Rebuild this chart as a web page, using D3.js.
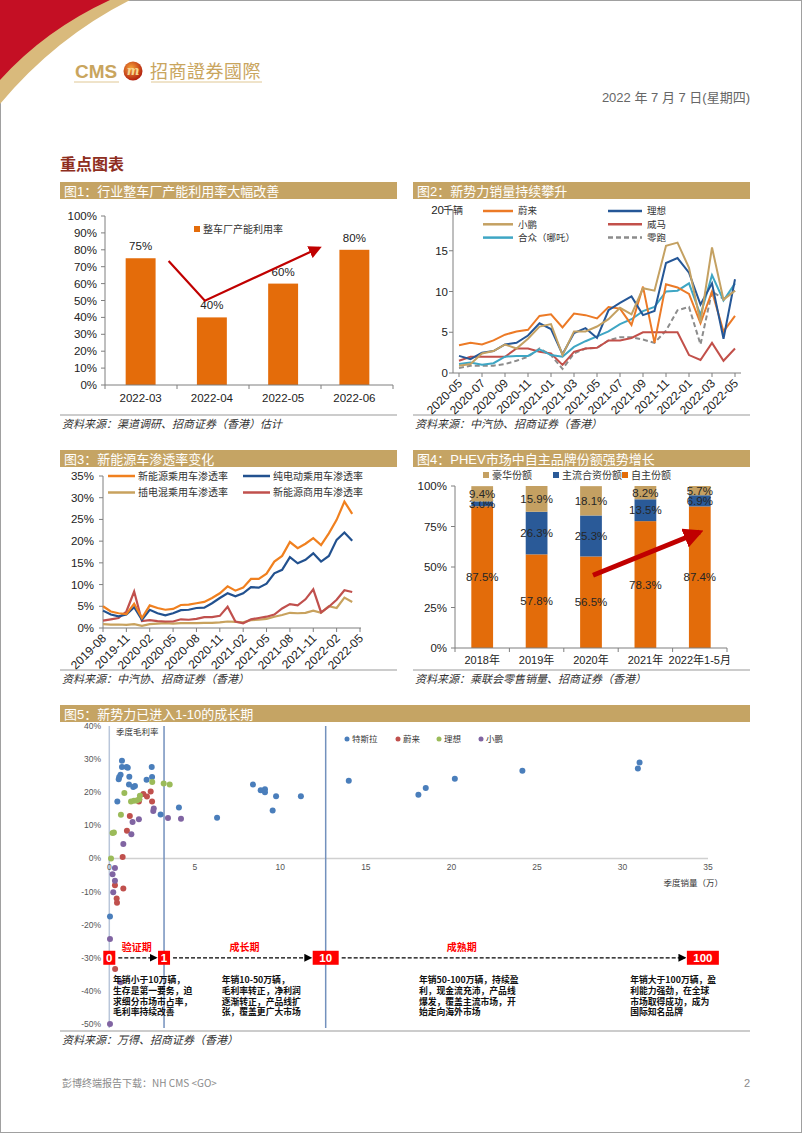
<!DOCTYPE html>
<html><head><meta charset="utf-8">
<script src="https://cdn.jsdelivr.net/npm/d3@7"></script>
<style>body{margin:0;background:#fff}svg{display:block}</style>
</head><body><svg id="c" width="802" height="1133"></svg>
<script>
// ---------------- DATA ----------------
const c1Cats = ["2022-03","2022-04","2022-05","2022-06"];
const c1Vals = [75,40,60,80];
const c1Ticks = [0,10,20,30,40,50,60,70,80,90,100];

const c2Months = ["2020-05","2020-06","2020-07","2020-08","2020-09","2020-10","2020-11","2020-12",
  "2021-01","2021-02","2021-03","2021-04","2021-05","2021-06","2021-07","2021-08","2021-09","2021-10","2021-11","2021-12",
  "2022-01","2022-02","2022-03","2022-04","2022-05"];
const c2Nio  = [3.4,3.7,3.5,4.0,4.7,5.1,5.3,7.0,7.2,5.6,7.3,7.1,6.7,8.1,7.9,5.9,10.6,3.7,10.9,10.5,9.7,6.1,10.0,5.1,7.0];
const c2Li   = [2.1,1.7,2.5,2.7,3.5,3.7,4.6,6.1,5.4,2.3,4.9,5.5,4.3,7.7,8.6,9.4,7.1,7.6,13.5,14.1,12.3,8.4,11.0,4.2,11.5];
const c2Xp   = [0.9,1.1,2.4,2.7,3.5,3.0,4.2,5.7,6.0,2.2,5.1,5.1,5.7,6.6,8.0,7.2,10.4,10.1,15.6,16.0,12.9,6.2,15.4,9.0,10.1];
const c2Wm   = [1.5,2.0,2.0,2.0,2.0,3.0,3.0,2.6,2.4,1.0,2.6,3.0,3.1,4.0,4.0,4.3,5.0,5.0,5.0,5.0,2.2,1.6,3.7,1.5,3.0];
const c2Neta = [1.1,1.3,1.0,1.2,2.0,2.1,2.1,2.9,2.2,2.0,3.2,3.9,4.5,5.1,6.0,6.6,7.6,8.1,10.0,10.1,11.0,7.1,12.0,8.9,11.0];
const c2Leap = [0.6,0.9,0.9,0.9,1.1,1.5,2.0,3.0,2.2,0.5,2.4,3.0,3.1,4.0,4.4,4.4,4.1,3.7,5.2,7.7,8.1,3.5,10.0,9.1,10.1];
const c2Ticks = [0,5,10,15,20];

const c3Labels = ["2019-08","2019-11","2020-02","2020-05","2020-08","2020-11","2021-02","2021-05","2021-08","2021-11","2022-02","2022-05"];
const c3NEV  = [5.0,3.8,3.4,3.2,5.6,2.3,5.2,4.6,4.2,4.4,5.3,5.4,5.7,6.0,6.9,8.0,9.6,8.6,9.3,11.3,11.3,12.5,15.3,16.6,19.8,18.4,19.4,20.7,19.1,21.8,24.9,29.1,26.3];
const c3BEV  = [4.0,3.1,2.7,3.1,4.8,1.9,4.2,3.4,2.9,3.4,4.1,4.2,4.6,4.7,5.7,6.9,8.0,7.3,8.0,9.4,9.3,10.2,12.6,13.4,16.3,14.9,15.7,17.2,15.3,16.6,20.3,22.0,20.1];
const c3PHEV = [0.9,0.8,0.8,0.7,0.9,0.5,0.9,1.0,1.1,1.0,1.1,1.1,1.1,1.2,1.2,1.3,1.5,1.4,1.3,1.8,1.9,2.1,2.6,3.0,3.5,3.4,3.5,4.0,3.5,5.0,4.6,7.0,6.0];
const c3Comm = [1.7,2.0,2.3,3.8,8.4,1.6,1.8,1.6,1.5,1.5,2.0,1.9,2.1,2.5,2.5,2.8,4.9,1.5,1.1,2.0,2.3,2.6,3.1,4.5,5.5,5.2,6.6,8.9,3.6,4.9,6.5,8.7,8.3];
const c3Ticks = [0,5,10,15,20,25,30,35];

const c4Cats = ["2018年","2019年","2020年","2021年","2022年1-5月"];
const c4Own  = [87.5,57.8,56.5,78.3,87.4];
const c4JV   = [3.0,26.3,25.3,13.5,6.9];
const c4Lux  = [9.4,15.9,18.1,8.2,5.7];
const c4Ticks = [0,25,50,75,100];

const teslaX = [0.74,0.74,1.01,1.08,0.66,0.58,0.55,1.17,2.48,2.5,2.18,1.15,1.4,1.5,0.47,3.0,4.07,6.3,8.4,8.85,9.1,9.1,9.75,9.55,11.2,14.0,18.07,18.5,20.2,24.15,30.9,31.0,0.04];
const teslaY = [29.5,27.6,27.6,27.4,25.3,24.6,23.9,24.7,27.6,24.6,23.8,22.3,21.6,21.9,17.2,13.3,15.4,12.3,22.3,20.6,20.9,20.0,18.8,14.5,18.8,23.5,19.2,21.3,24.1,26.5,27.2,29.0,-17.5];
const nioX = [2.42,1.99,2.2,2.5,1.73,1.75,1.2,1.03,0.78,0.82,0.33,0.43,0.45,0.34];
const nioY = [20.2,19.5,18.7,17.2,17.2,17.8,12.8,8.4,0.4,-9.1,-8.1,-12.1,-13.4,-33.4];
const liX = [2.51,3.18,3.53,0.88,1.79,1.75,1.27,1.44,1.6,0.68,0.27,0.19,0.1];
const liY = [23.1,22.6,22.3,19.8,18.9,17.9,17.2,17.4,17.5,13.2,7.8,7.7,0.0];
const xpX = [2.6,2.57,3.43,4.19,1.73,1.36,1.29,0.82,0.33,0.19,0.33,0.23,0.04,0.66,0.04];
const xpY = [15.1,14.3,12.2,12.0,11.8,11.0,7.3,4.4,-2.9,-4.8,-6.7,-10.2,-24.3,-37.4,-50.0];
const c5XTicks = [0,5,10,15,20,25,30,35];
const c5YTicks = [40,30,20,10,0,-10,-20,-30,-40,-50];
const stageVals = [0,3.2,12.65,34.7];
const stageText = ["0","1","10","100"];
const stageNames = ["验证期","成长期","成熟期"];
const stageNameX = [1.6,7.9,20.6];
const stageDescX = [0.22,6.57,18.1,30.45];
const stageDesc = [
  ["年销小于10万辆，","生存是第一要务，迫","求细分市场市占率，","毛利率持续改善"],
  ["年销10-50万辆，","毛利率转正，净利润","逐渐转正，产品线扩","张，覆盖更广大市场"],
  ["年销50-100万辆，持续盈","利，现金流充沛，产品线","爆发，覆盖主流市场，开","始走向海外市场"],
  ["年销大于100万辆，盈","利能力强劲，在全球","市场取得成功，成为","国际知名品牌"]
];

// ---------------- DRAW ----------------
const svg = d3.select("#c");
const SANS = "Arial, 'Liberation Sans', 'Noto Sans CJK SC', sans-serif";
const CJK = "'Noto Sans CJK SC', sans-serif";
const GOLD = "#c5a464";
const AX = "#7f7f7f";

svg.append("rect").attr("x",0.5).attr("y",0.5).attr("width",801).attr("height",1132)
  .attr("fill","#fff").attr("stroke","#a0a0a0");

// header swoosh
svg.append("path").attr("d","M0,0 L130,0 Q55,38 0,104 Z").attr("fill","#d9ba7c");
svg.append("path").attr("d","M0,0 L110,0 Q45,30 0,80 Z").attr("fill","#c40f24");

// logo
svg.append("text").attr("x",75).attr("y",78).attr("font-family",SANS).attr("font-weight","bold")
  .attr("font-size",19).attr("fill","#c9a55e").text("CMS");
const grad = svg.append("defs").append("radialGradient").attr("id","lg").attr("cx","40%").attr("cy","35%").attr("r","65%");
grad.append("stop").attr("offset","0%").attr("stop-color","#f7a43a");
grad.append("stop").attr("offset","100%").attr("stop-color","#b3200e");
svg.append("circle").attr("cx",133).attr("cy",71).attr("r",9.5).attr("fill","url(#lg)");
svg.append("text").attr("x",133).attr("y",75).attr("text-anchor","middle").attr("font-family","'DejaVu Serif', serif")
  .attr("font-style","italic").attr("font-weight","bold").attr("font-size",12).attr("fill","#f6d690").text("m");
svg.append("text").attr("x",150).attr("y",78).attr("font-family","'Noto Sans CJK TC', sans-serif")
  .attr("font-size",18).attr("fill","#c9a55e").attr("letter-spacing","0.5").text("招商證券國際");
svg.append("line").attr("x1",74).attr("x2",119).attr("y1",82).attr("y2",82).attr("stroke","#e0c895").attr("stroke-width",1);
svg.append("line").attr("x1",151).attr("x2",262).attr("y1",82).attr("y2",82).attr("stroke","#e0c895").attr("stroke-width",1);

svg.append("text").attr("x",750).attr("y",102).attr("text-anchor","end").attr("font-family",SANS)
  .attr("font-size",13).attr("fill","#666").text("2022 年 7 月 7 日(星期四)");

svg.append("text").attr("x",60).attr("y",170).attr("font-family",CJK).attr("font-weight","bold")
  .attr("font-size",16).attr("fill","#8e2e1e").text("重点图表");

function titleBar(x,y,w,t){
  svg.append("rect").attr("x",x).attr("y",y).attr("width",w).attr("height",17).attr("fill",GOLD);
  svg.append("text").attr("x",x+4).attr("y",y+13.5).attr("font-family",SANS).attr("font-size",13)
    .attr("fill","#fff").text(t);
}
function source(x,y,w,t){
  svg.append("line").attr("x1",x).attr("x2",x+w).attr("y1",y).attr("y2",y).attr("stroke","#9a9a9a").attr("stroke-width",1.2);
  svg.append("text").attr("x",x+2).attr("y",y+13).attr("font-family",CJK).attr("font-style","italic")
    .attr("font-size",11).attr("fill","#333").text(t);
}
function hline(x1,x2,y,c,w){svg.append("line").attr("x1",x1).attr("x2",x2).attr("y1",y).attr("y2",y).attr("stroke",c||AX).attr("stroke-width",w||1);}
function vline(x,y1,y2,c,w){svg.append("line").attr("x1",x).attr("x2",x).attr("y1",y1).attr("y2",y2).attr("stroke",c||AX).attr("stroke-width",w||1);}
const defs = svg.select("defs");
function marker(id,color,size){
  defs.append("marker").attr("id",id).attr("viewBox","0 0 10 10").attr("refX",8).attr("refY",5)
    .attr("markerWidth",size).attr("markerHeight",size).attr("orient","auto").attr("markerUnits","userSpaceOnUse")
    .append("path").attr("d","M0,0 L10,5 L0,10 Z").attr("fill",color);
}
marker("arR","#c00000",13);
marker("arR2","#c00000",20);
marker("arK","#000",8);

// ====== Chart 1 ======
titleBar(60,182,337,"图1：行业整车厂产能利用率大幅改善");
const x1 = d3.scaleBand().domain(c1Cats).range([105,390]).paddingInner(0.58).paddingOuter(0.29);
const y1 = d3.scaleLinear().domain([0,100]).range([385,216]);
const g1 = svg.append("g");
g1.selectAll("rect.b").data(c1Cats).join("rect").attr("x",d=>x1(d)).attr("width",x1.bandwidth())
  .attr("y",(d,i)=>y1(c1Vals[i])).attr("height",(d,i)=>y1(0)-y1(c1Vals[i])).attr("fill","#e46c0a");
g1.selectAll("text.v").data(c1Cats).join("text").attr("x",d=>x1(d)+x1.bandwidth()/2)
  .attr("y",(d,i)=>y1(c1Vals[i])-8).attr("text-anchor","middle").attr("font-family",SANS).attr("font-size",11.5)
  .attr("fill","#222").text((d,i)=>c1Vals[i]+"%");
vline(105,216,385); hline(105,393,385);
c1Ticks.forEach(t=>{
  hline(101,105,y1(t));
  svg.append("text").attr("x",97).attr("y",y1(t)+4).attr("text-anchor","end").attr("font-family",SANS)
    .attr("font-size",11.5).attr("fill","#222").text(t+"%");
});
[0,1,2,3,4].forEach(i=>vline(105+i*(393-105)/4,385,389));
c1Cats.forEach(c=>svg.append("text").attr("x",x1(c)+x1.bandwidth()/2).attr("y",402).attr("text-anchor","middle")
  .attr("font-family",SANS).attr("font-size",11.5).attr("fill","#222").text(c));
svg.append("rect").attr("x",194).attr("y",226).attr("width",6).attr("height",6).attr("fill","#e46c0a");
svg.append("text").attr("x",203).attr("y",233).attr("font-family",CJK).attr("font-size",10).attr("fill","#333").text("整车厂产能利用率");
const a1 = [[x1("2022-03")+x1.bandwidth()/2+28, y1(73.4)],[x1("2022-04")+x1.bandwidth()/2-7, y1(49.9)],[x1("2022-06")+x1.bandwidth()/2-35, y1(81.2)]];
svg.append("path").attr("d",d3.line()(a1)).attr("fill","none").attr("stroke","#c00000").attr("stroke-width",2.2)
  .attr("marker-end","url(#arR)");
source(60,415,337,"资料来源：渠道调研、招商证券（香港）估计");

// ====== Chart 2 ======
titleBar(413,182,337,"图2：新势力销量持续攀升");
const x2 = d3.scalePoint().domain(c2Months).range([459,735]);
const y2 = d3.scaleLinear().domain([0,20]).range([373,210]);
vline(453,210,373); hline(453,741,373);
c2Ticks.forEach(t=>{
  hline(449,453,y2(t));
  svg.append("text").attr("x",t===20?444:448).attr("y",y2(t)+4).attr("text-anchor","end").attr("font-family",SANS)
    .attr("font-size",11.5).attr("fill","#222").text(t);
});
svg.append("text").attr("x",443).attr("y",214).attr("font-family",CJK).attr("font-size",10).attr("fill","#333").text("千辆");
c2Months.forEach((m,i)=>{
  if(i%2===0){
    vline(x2(m),373,377);
    svg.append("text").attr("transform",`translate(${x2(m)+4},${384}) rotate(-45)`).attr("text-anchor","end")
      .attr("font-family",SANS).attr("font-size",12).attr("fill","#222").text(m);
  }
});
const c2Series = [
  {name:"蔚来",v:c2Nio,c:"#ec7a26",dash:null},
  {name:"理想",v:c2Li,c:"#255797",dash:null},
  {name:"小鹏",v:c2Xp,c:"#c4a162",dash:null},
  {name:"威马",v:c2Wm,c:"#c2504a",dash:null},
  {name:"合众（哪吒）",v:c2Neta,c:"#3ea6c4",dash:null},
  {name:"零跑",v:c2Leap,c:"#8c8c8c",dash:"5,3"}
];
const line2 = d3.line().x((d,i)=>x2(c2Months[i])).y(d=>y2(d));
const drawOrder2 = [5,3,4,0,1,2];
drawOrder2.forEach(k=>{
  const s=c2Series[k];
  svg.append("path").attr("d",line2(s.v)).attr("fill","none").attr("stroke",s.c).attr("stroke-width",2)
    .attr("stroke-dasharray",s.dash);
});
c2Series.forEach((s,k)=>{
  const col=k%2, row=Math.floor(k/2);
  const lx = col===0?483:608, lw = col===0?30:34, ly = 211+row*13.3;
  svg.append("line").attr("x1",lx).attr("x2",lx+lw).attr("y1",ly).attr("y2",ly).attr("stroke",s.c).attr("stroke-width",2.5)
    .attr("stroke-dasharray",s.dash);
  svg.append("text").attr("x",lx+lw+5).attr("y",ly+3.3).attr("font-family",CJK).attr("font-size",9.5).attr("fill","#333").text(s.name);
});
source(413,415,337,"资料来源：中汽协、招商证券（香港）");

// ====== Chart 3 ======
titleBar(60,450,337,"图3：新能源车渗透率变化");
const x3 = d3.scaleLinear().domain([0,33]).range([103,360]);
const y3 = d3.scaleLinear().domain([0,35]).range([628,476]);
vline(103,476,628); hline(103,361,628);
c3Ticks.forEach(t=>{
  hline(99,103,y3(t));
  svg.append("text").attr("x",94).attr("y",y3(t)+4).attr("text-anchor","end").attr("font-family",SANS)
    .attr("font-size",11.5).attr("fill","#222").text(t+"%");
});
c3Labels.forEach((m,i)=>{
  vline(x3(i*3),628,632);
  svg.append("text").attr("transform",`translate(${x3(i*3)+4},${639}) rotate(-45)`).attr("text-anchor","end")
    .attr("font-family",SANS).attr("font-size",12).attr("fill","#222").text(m);
});
const c3Series = [
  {name:"新能源乘用车渗透率",v:c3NEV,c:"#f0801f"},
  {name:"纯电动乘用车渗透率",v:c3BEV,c:"#22518f"},
  {name:"插电混乘用车渗透率",v:c3PHEV,c:"#c8a25e"},
  {name:"新能源商用车渗透率",v:c3Comm,c:"#c0504d"}
];
const line3 = d3.line().x((d,i)=>x3(i)).y(d=>y3(d));
[2,3,1,0].forEach(k=>{
  svg.append("path").attr("d",line3(c3Series[k].v)).attr("fill","none").attr("stroke",c3Series[k].c).attr("stroke-width",2.2);
});
c3Series.forEach((s,k)=>{
  const col=k%2,row=Math.floor(k/2);
  const lx = col===0?108:243, ly = 476+row*16.5;
  svg.append("line").attr("x1",lx).attr("x2",lx+27).attr("y1",ly).attr("y2",ly).attr("stroke",s.c).attr("stroke-width",2.5);
  svg.append("text").attr("x",lx+30).attr("y",ly+3.5).attr("font-family",CJK).attr("font-size",10).attr("fill","#333").text(s.name);
});
source(60,670,337,"资料来源：中汽协、招商证券（香港）");

// ====== Chart 4 ======
titleBar(413,450,337,"图4：PHEV市场中自主品牌份额强势增长");
const x4 = d3.scaleBand().domain(c4Cats).range([455,727]).paddingInner(0.6).paddingOuter(0.3);
const y4 = d3.scaleLinear().domain([0,100]).range([648,486]);
const c4Stack = [
  {name:"自主份额",v:c4Own,c:"#e36c0a"},
  {name:"主流合资份额",v:c4JV,c:"#2a5a98"},
  {name:"豪华份额",v:c4Lux,c:"#c4a062"}
];
c4Cats.forEach((cat,i)=>{
  let base=0;
  c4Stack.forEach(s=>{
    const v=s.v[i];
    svg.append("rect").attr("x",x4(cat)).attr("width",x4.bandwidth()).attr("y",y4(Math.min(100,base+v)))
      .attr("height",y4(base)-y4(Math.min(100,base+v))).attr("fill",s.c);
    svg.append("text").attr("x",x4(cat)+x4.bandwidth()/2).attr("y",y4(base+v/2)+4).attr("text-anchor","middle")
      .attr("font-family",SANS).attr("font-size",11.5).attr("fill","#262626").text(v.toFixed(1)+"%");
    base+=v;
  });
});
vline(455,486,648); hline(455,727,648);
c4Ticks.forEach(t=>{
  hline(451,455,y4(t));
  svg.append("text").attr("x",447).attr("y",y4(t)+4).attr("text-anchor","end").attr("font-family",SANS)
    .attr("font-size",11.5).attr("fill","#222").text(t+"%");
});
[0,1,2,3,4,5].forEach(i=>vline(455+i*(727-455)/5,648,652));
c4Cats.forEach(c=>svg.append("text").attr("x",x4(c)+x4.bandwidth()/2).attr("y",664).attr("text-anchor","middle")
  .attr("font-family",SANS).attr("font-size",11).attr("fill","#222").text(c));
[{s:2,x:486},{s:1,x:556},{s:0,x:625}].forEach(o=>{
  svg.append("rect").attr("x",o.x-3).attr("y",472).attr("width",6).attr("height",6).attr("fill",c4Stack[o.s].c);
  svg.append("text").attr("x",o.x+6).attr("y",479).attr("font-family",CJK).attr("font-size",10).attr("fill","#333").text(c4Stack[o.s].name);
});
const a4 = [[x4("2020年")+x4.bandwidth()/2+2,y4(44.9)],[x4("2022年1-5月")+x4.bandwidth()/2,y4(71.6)]];
svg.append("path").attr("d",d3.line()(a4)).attr("stroke","#c00000").attr("stroke-width",5).attr("fill","none")
  .attr("marker-end","url(#arR2)");
source(413,670,337,"资料来源：乘联会零售销量、招商证券（香港）");

// ====== Chart 5 ======
titleBar(60,705,690,"图5：新势力已进入1-10的成长期");
const x5 = d3.scaleLinear().domain([0,35]).range([109.3,708]);
const y5 = d3.scaleLinear().domain([-50,40]).range([1024,726]);
hline(x5(0),x5(35),y5(0),"#d0d0d0",1.5);
vline(x5(0),726,1028,"#b9c6da",1.5);
[1,2].forEach(k=>vline(x5(stageVals[k]),726,1028,"#7391bd",1.5));
c5YTicks.forEach(t=>svg.append("text").attr("x",101).attr("y",y5(t)+3).attr("text-anchor","end").attr("font-family",SANS)
  .attr("font-size",8.5).attr("fill","#555").text(t+"%"));
c5XTicks.forEach(t=>svg.append("text").attr("x",x5(t)).attr("y",y5(0)+12).attr("text-anchor","middle").attr("font-family",SANS)
  .attr("font-size",8.5).attr("fill","#555").text(t));
svg.append("text").attr("x",116).attr("y",735).attr("font-family",CJK).attr("font-size",8.5).attr("fill","#333").text("季度毛利率");
svg.append("text").attr("x",723).attr("y",886).attr("text-anchor","end").attr("font-family",CJK).attr("font-size",8.5).attr("fill","#333").text("季度销量（万）");
const sc = [
  {name:"特斯拉",x:teslaX,y:teslaY,c:"#4a7ebb"},
  {name:"蔚来",x:nioX,y:nioY,c:"#c0504d"},
  {name:"理想",x:liX,y:liY,c:"#9bbb59"},
  {name:"小鹏",x:xpX,y:xpY,c:"#8064a2"}
];
sc.forEach(s=>{
  svg.append("g").selectAll("circle").data(s.x).join("circle").attr("cx",d=>x5(d)).attr("cy",(d,i)=>y5(s.y[i]))
    .attr("r",3).attr("fill",s.c);
});
[347,398,439,481].forEach((lx,k)=>{
  svg.append("circle").attr("cx",lx).attr("cy",739).attr("r",2.5).attr("fill",sc[k].c);
  svg.append("text").attr("x",lx+5).attr("y",742).attr("font-family",CJK).attr("font-size",8.5).attr("fill","#333").text(sc[k].name);
});
// stages
const boxW = [12,12,26,32];
stageVals.forEach((v,k)=>{
  const cx=x5(v), cy=y5(-30);
  svg.append("rect").attr("x",cx-boxW[k]/2).attr("y",cy-7).attr("width",boxW[k]).attr("height",14).attr("fill","#ff0000");
  svg.append("text").attr("x",cx).attr("y",cy+4.5).attr("text-anchor","middle").attr("font-family",SANS)
    .attr("font-weight","bold").attr("font-size",11.5).attr("fill","#fff").text(stageText[k]);
  if(k<3){
    const xa = cx+boxW[k]/2+3, xb = x5(stageVals[k+1])-boxW[k+1]/2-2;
    svg.append("line").attr("x1",xa).attr("x2",xb).attr("y1",cy).attr("y2",cy).attr("stroke","#000")
      .attr("stroke-width",1.3).attr("stroke-dasharray","4,2").attr("marker-end","url(#arK)");
    svg.append("text").attr("x",x5(stageNameX[k])).attr("y",cy-7).attr("text-anchor","middle").attr("font-family",CJK)
      .attr("font-weight","bold").attr("font-size",10).attr("fill","#ff0000").text(stageNames[k]);
  }
  stageDesc[k].forEach((ln,j)=>svg.append("text").attr("x",x5(stageDescX[k])).attr("y",cy+25+j*10.9)
    .attr("font-family",CJK).attr("font-weight","bold").attr("font-size",8.8).attr("fill","#111").text(ln));
});
source(60,1031,690,"资料来源：万得、招商证券（香港）");

// footer
svg.append("text").attr("x",62).attr("y",1087).attr("font-family",CJK).attr("font-size",10).attr("fill","#8a8a8a").text("彭博终端报告下载：NH CMS <GO>");
svg.append("text").attr("x",750).attr("y",1087).attr("text-anchor","end").attr("font-family",SANS).attr("font-size",11).attr("fill","#8a8a8a").text("2");
</script></body></html>
